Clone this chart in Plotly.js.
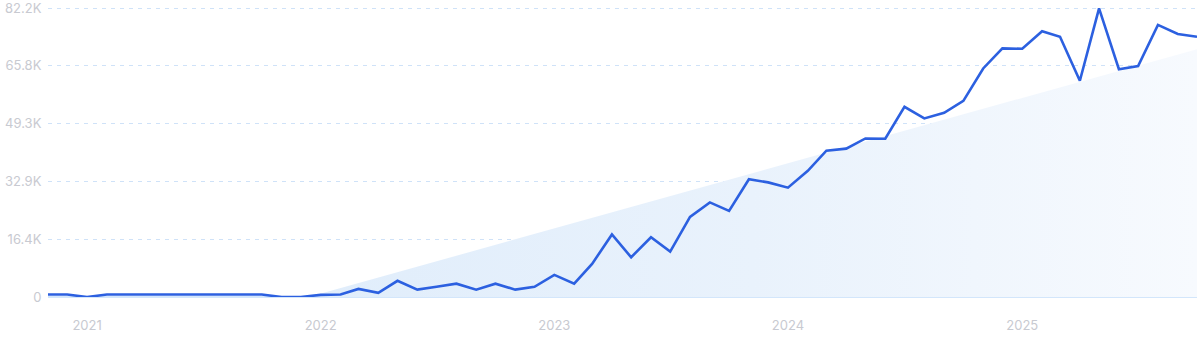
<!DOCTYPE html>
<html>
<head>
<meta charset="utf-8">
<script src="https://cdn.plot.ly/plotly-3.0.1.min.js"></script>
<style>
html,body{margin:0;padding:0;background:#fff;}
#chart{width:1200px;height:343px;}
</style>
</head>
<body>
<div id="chart"></div>
<script>
// Monthly values, Nov 2020 .. Oct 2025
const months = [
  '2020-11-01','2020-12-01',
  '2021-01-01','2021-02-01','2021-03-01','2021-04-01','2021-05-01','2021-06-01','2021-07-01','2021-08-01','2021-09-01','2021-10-01','2021-11-01','2021-12-01',
  '2022-01-01','2022-02-01','2022-03-01','2022-04-01','2022-05-01','2022-06-01','2022-07-01','2022-08-01','2022-09-01','2022-10-01','2022-11-01','2022-12-01',
  '2023-01-01','2023-02-01','2023-03-01','2023-04-01','2023-05-01','2023-06-01','2023-07-01','2023-08-01','2023-09-01','2023-10-01','2023-11-01','2023-12-01',
  '2024-01-01','2024-02-01','2024-03-01','2024-04-01','2024-05-01','2024-06-01','2024-07-01','2024-08-01','2024-09-01','2024-10-01','2024-11-01','2024-12-01',
  '2025-01-01','2025-02-01','2025-03-01','2025-04-01','2025-05-01','2025-06-01','2025-07-01','2025-08-01','2025-09-01','2025-10-01'
];
const searches = [
  700, 700,
  0, 700, 700, 700, 700, 700, 700, 700, 700, 700, 0, 0,
  600, 700, 2300, 1200, 4600, 2100, 2900, 3800, 2100, 3800, 2100, 2900,
  6300, 3800, 9400, 17800, 11300, 17000, 12900, 22800, 26900, 24500, 33500, 32600,
  31100, 35900, 41600, 42200, 45100, 45000, 54100, 50800, 52400, 55800, 65000, 70700,
  70600, 75600, 74000, 61500, 82100, 64800, 65700, 77400, 74800, 74000
];
// Trend line endpoints
const trendX = ['2021-12-13', '2025-10-01'];
const trendY = [0, 70500];

const yTicks = [0, 16440, 32880, 49320, 65760, 82200];
const yTickText = ['0', '16.4K', '32.9K', '49.3K', '65.8K', '82.2K'];
const xTicks = ['2021-01-01','2022-01-01','2023-01-01','2024-01-01','2025-01-01'];
const xTickText = ['2021','2022','2023','2024','2025'];

const traces = [
  {
    x: trendX, y: trendY, type: 'scatter', mode: 'lines',
    line: {width: 0, color: 'rgba(0,0,0,0)'},
    fill: 'tozeroy',
    fillgradient: {
      type: 'horizontal',
      colorscale: [[0, 'rgb(224,237,251)'], [0.5, 'rgb(233,242,252)'], [1, 'rgb(247,250,254)']]
    },
    hoverinfo: 'skip', showlegend: false
  },
  {
    x: months, y: searches, type: 'scatter', mode: 'lines',
    line: {color: '#2c60e0', width: 2.6},
    showlegend: false
  }
];

const layout = {
  width: 1200, height: 343,
  margin: {l: 48, r: 3, t: 5, b: 46},
  paper_bgcolor: '#fff', plot_bgcolor: '#fff',
  font: {family: 'Inter, Roboto, sans-serif', size: 13, color: '#c8cad1'},
  xaxis: {
    type: 'date',
    range: ['2020-11-01', '2025-10-01'],
    tickvals: xTicks, ticktext: xTickText,
    showgrid: false, zeroline: false, showline: false,
    ticks: 'outside', ticklen: 16, tickcolor: 'rgba(0,0,0,0)',
    tickfont: {size: 13, color: '#c8cad1'},
    fixedrange: true
  },
  yaxis: {
    range: [0, 83053],
    tickvals: yTicks, ticktext: yTickText,
    ticklabeloverflow: 'allow',
    showgrid: true, gridcolor: '#cfe2f8', griddash: '4px,5px', gridwidth: 1,
    zeroline: true, zerolinecolor: '#d3e6fb', zerolinewidth: 1.5,
    showline: false,
    ticks: 'outside', ticklen: 3, tickcolor: 'rgba(0,0,0,0)',
    tickfont: {size: 13, color: '#c8cad1'},
    fixedrange: true
  }
};

Plotly.newPlot('chart', traces, layout, {displayModeBar: false, staticPlot: true});
</script>
</body>
</html>
